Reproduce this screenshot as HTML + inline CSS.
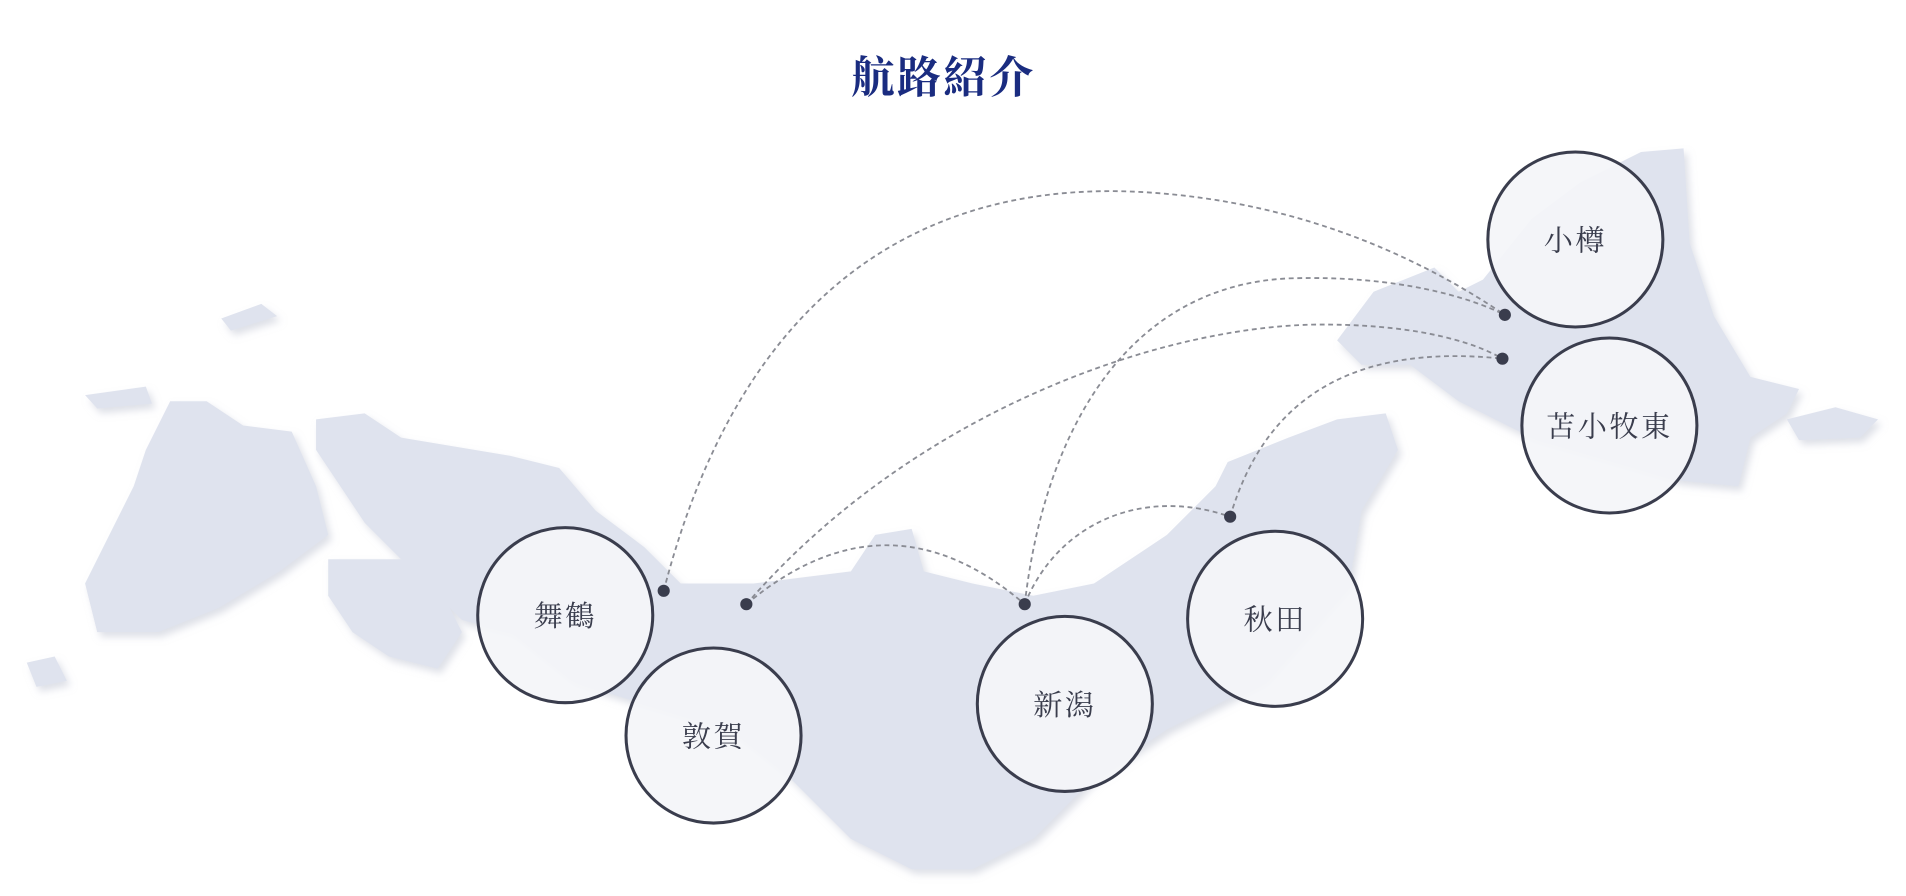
<!DOCTYPE html>
<html><head><meta charset="utf-8"><style>
html,body{margin:0;padding:0;background:#fff;width:1906px;height:896px;overflow:hidden}
svg{display:block}
text{font-family:"Liberation Serif","Noto Serif CJK SC",serif}
</style></head><body>
<svg width="1906" height="896" viewBox="0 0 1568 737" preserveAspectRatio="none">
<defs><filter id="sh" x="-5%" y="-5%" width="110%" height="110%"><feDropShadow dx="3" dy="4" stdDeviation="3" flood-color="#c8ccd8" flood-opacity="0.6"/></filter></defs>
<g fill="#dfe3ee" filter="url(#sh)">
<polygon points="260,345 300,340 330,360 420,375 460,385 490,420 530,450 560,480 620,480 700,470 720,440 750,435 760,470 800,480 850,490 900,480 960,440 1000,400 1010,380 1060,360 1100,345 1140,340 1150,370 1120,420 1110,480 1040,560 960,600 900,640 850,690 800,715 750,715 700,690 650,640 600,600 500,570 470,560 420,520 380,510 340,470 300,430 280,400 260,370"/>
<polygon points="140,330 170,330 200,350 240,355 260,400 270,440 230,470 180,500 130,520 80,520 70,480 90,440 110,400 120,370"/>
<polygon points="270,460 330,460 360,480 380,520 360,550 320,540 290,520 270,490"/>
<polygon points="1350,125 1385,122 1390,200 1410,260 1440,310 1480,320 1470,340 1440,360 1430,400 1380,395 1330,380 1260,360 1200,330 1160,300 1120,300 1100,280 1130,240 1180,220 1200,240 1220,230 1260,180 1300,150"/>
<polygon points="1470,345 1510,335 1545,345 1530,360 1480,362"/>
<polygon points="70,325 120,318 125,332 80,336"/>
<polygon points="182,262 215,250 228,260 190,272"/>
<polygon points="22,545 45,540 55,560 30,565"/>
</g>
<g fill="none" stroke="#8a8c94" stroke-width="1.5" stroke-dasharray="4,3">
<path d="M546,486 C620,200 800,150 940,158 C1080,166 1180,220 1238,259"/>
<path d="M614,497 C750,340 950,270 1080,267 C1160,266 1210,280 1236,295"/>
<path d="M843,497 C860,350 930,235 1060,229 C1150,226 1210,245 1238,259"/>
<path d="M614,497 Q730,400 843,497"/>
<path d="M843,497 C870,430 940,400 1012,425"/>
<path d="M1012,425 C1040,330 1110,282 1236,295"/>
</g>
<g fill="#3a3d4d">
<circle cx="546" cy="486" r="5"/><circle cx="614" cy="497" r="5"/><circle cx="843" cy="497" r="5"/>
<circle cx="1012" cy="425" r="5"/><circle cx="1238" cy="259" r="5"/><circle cx="1236" cy="295" r="5"/>
</g>
<g fill="#f4f5f9" fill-opacity="0.92" stroke="#3a3d4d" stroke-width="2.5">
<circle cx="1296" cy="197" r="72"/><circle cx="1324" cy="350" r="72"/>
<circle cx="465" cy="506" r="72"/><circle cx="587" cy="605" r="72"/>
<circle cx="876" cy="579" r="72"/><circle cx="1049" cy="509" r="72"/>
</g>
<g fill="#3a3d4d" font-size="24" text-anchor="middle" letter-spacing="2">
<text x="1296" y="206">小樽</text><text x="1324" y="359">苫小牧東</text>
<text x="465" y="515">舞鶴</text><text x="587" y="614">敦賀</text>
<text x="876" y="588">新潟</text><text x="1049" y="518">秋田</text>
</g>
<text x="776" y="76" text-anchor="middle" font-size="36" font-weight="bold" fill="#1a2c80" letter-spacing="2">航路紹介</text>
</svg>
</body></html>
